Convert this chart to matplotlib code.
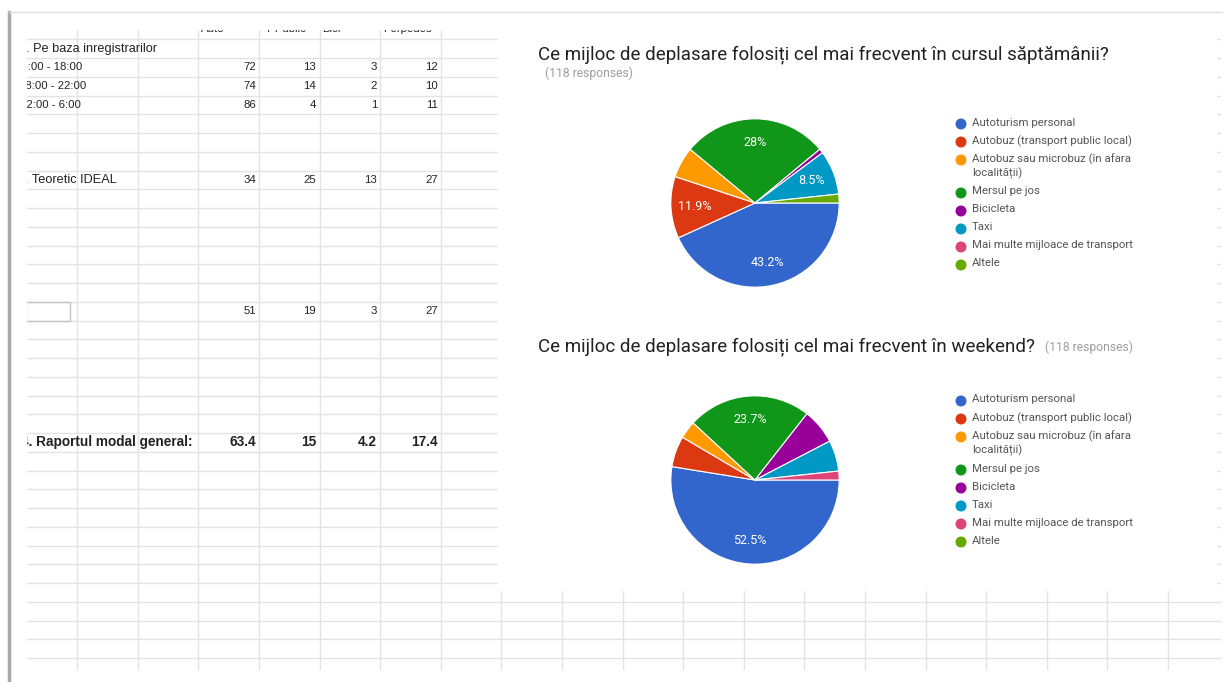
import matplotlib.pyplot as plt
from matplotlib.patches import Rectangle, Circle

W, H = 1226, 682

# foaia de calcul (stanga)
header = ["Auto", "T Public", "Bici", "Perpedes"]
section1_label = "1. Pe baza inregistrarilor"
interval_labels = ["16:00 - 18:00", "18:00 - 22:00", "22:00 - 6:00"]
interval_vals = [[72, 13, 3, 12], [74, 14, 2, 10], [86, 4, 1, 11]]
ideal_label = "2. Teoretic IDEAL"
ideal_vals = [34, 25, 13, 27]
row3_vals = [51, 19, 3, 27]
total_label = "4. Raportul modal general:"
total_vals = ["63.4", "15", "4.2", "17.4"]

# raspunsuri formular (dreapta)
categories = [
    "Autoturism personal",
    "Autobuz (transport public local)",
    "Autobuz sau microbuz (în afara\nlocalității)",
    "Mersul pe jos",
    "Bicicleta",
    "Taxi",
    "Mai multe mijloace de transport",
    "Altele",
]
colors = ["#3366cc", "#dc3912", "#ff9900", "#109618",
          "#990099", "#0099c6", "#dd4477", "#66aa00"]
week_counts = [51, 14, 7, 33, 1, 10, 0, 2]
weekend_counts = [62, 7, 4, 28, 8, 7, 2, 0]
title_week = "Ce mijloc de deplasare folosiți cel mai frecvent în cursul săptămânii?"
title_weekend = "Ce mijloc de deplasare folosiți cel mai frecvent în weekend?"
n_responses = 118

GRID = "#e3e3e3"
row_y = [39.25 + 18.75 * k for k in range(34)]
col_x = [16.6 + 60.6 * j for j in range(1, 20)]


def row_mid(k):
    return (row_y[k] + row_y[k + 1]) / 2


fig = plt.figure(figsize=(W / 100, H / 100), dpi=100)
bg = fig.add_axes([0, 0, 1, 1])
bg.set_xlim(0, W)
bg.set_ylim(H, 0)
bg.axis("off")

# grila
for y in row_y:
    bg.plot([26, 1220], [y, y], color=GRID, lw=1, zorder=1)
for x in col_x:
    bg.plot([x, x], [26, 669], color=GRID, lw=1, zorder=1)

tfont = dict(family="Liberation Sans", fontsize=8.2, color="#222", zorder=2)
lfont = dict(tfont, fontsize=9.2)
val_right = [256, 316, 377, 438]
head_x = [201, 265, 322, 383]

# antetul e taiat sus in captura
for x, h in zip(head_x, header):
    bg.text(x, 29.5, h, ha="left", va="center", **tfont)

bg.text(19, row_mid(0), section1_label, ha="left", va="center", **lfont)
label_x = [15, 19, 20]
for i, (lab, vals) in enumerate(zip(interval_labels, interval_vals)):
    y = row_mid(1 + i)
    bg.text(label_x[i], y, lab, ha="left", va="center", **tfont)
    for x, v in zip(val_right, vals):
        bg.text(x, y, str(v), ha="right", va="center", **tfont)

bg.text(18, row_mid(7), ideal_label, ha="left", va="center", **lfont)
for x, v in zip(val_right, ideal_vals):
    bg.text(x, row_mid(7), str(v), ha="right", va="center", **tfont)

bg.add_patch(Rectangle((26, row_y[14]), 44, 18.75, fill=False,
                       edgecolor="#c4c4c4", lw=1, zorder=2))
for x, v in zip(val_right, row3_vals):
    bg.text(x, row_mid(14), str(v), ha="right", va="center", **tfont)

bfont = dict(tfont, fontsize=9.8, fontweight="bold")
bg.text(21, row_mid(21), total_label, ha="left", va="center", **bfont)
for x, v in zip(val_right, total_vals):
    bg.text(x, row_mid(21), v, ha="right", va="center", **bfont)

# margini taiate ale capturii
bg.add_patch(Rectangle((11, 12), 15, H, color="white", zorder=3))
bg.add_patch(Rectangle((11, 12), W, 16.5, color="white", zorder=3))
bg.plot([9, 9], [12, H], color="#a8a8a8", lw=2.5, zorder=4)
bg.plot([9, 1222], [12, 12], color="#dedede", lw=1, zorder=4)

# panoul cu grafice
bg.add_patch(Rectangle((498, 20), 1216 - 498, 570, color="white", zorder=5))

ffont = dict(family="Roboto", zorder=6)
bg.text(538, 55, title_week, ha="left", va="center", fontsize=13.5,
        color="#212121", **ffont)
bg.text(545, 73, f"({n_responses} responses)", ha="left", va="center",
        fontsize=8.7, color="#9e9e9e", **ffont)
bg.text(538, 347, title_weekend, ha="left", va="center", fontsize=13.5,
        color="#212121", **ffont)
bg.text(1045, 347, f"({n_responses} responses)", ha="left", va="center",
        fontsize=8.7, color="#9e9e9e", **ffont)


def pct_label(p):
    if p < 8:
        return ""
    return f"{p:.1f}".rstrip("0").rstrip(".") + "%"


def draw_pie(counts, cx, cy, r, leg_y0):
    ax = fig.add_axes([(cx - r) / W, 1 - (cy + r) / H, 2 * r / W, 2 * r / H])
    ax.set_zorder(10)
    vals = [c for c in counts if c > 0]
    cols = [col for c, col in zip(counts, colors) if c > 0]
    ax.pie(
        vals, colors=cols, startangle=0, counterclock=False,
        autopct=pct_label, pctdistance=0.72,
        wedgeprops=dict(edgecolor="white", linewidth=0.8),
        textprops=dict(color="white", fontsize=9, family="Roboto"),
    )
    ax.set_xlim(-1.01, 1.01)
    ax.set_ylim(-1.01, 1.01)
    ax.axis("off")

    y = leg_y0
    for lab, col in zip(categories, colors):
        bg.add_patch(Circle((961, y), 4.8, color=col, zorder=6))
        bg.text(972, y - 6.5, lab, ha="left", va="top", fontsize=8.2,
                color="#555555", linespacing=1.3, **ffont)
        y += 18 + 15 * lab.count("\n")


draw_pie(week_counts, 755, 203, 85, 124)
draw_pie(weekend_counts, 755, 480, 85, 401)

fig.savefig("out.png", dpi=100)
